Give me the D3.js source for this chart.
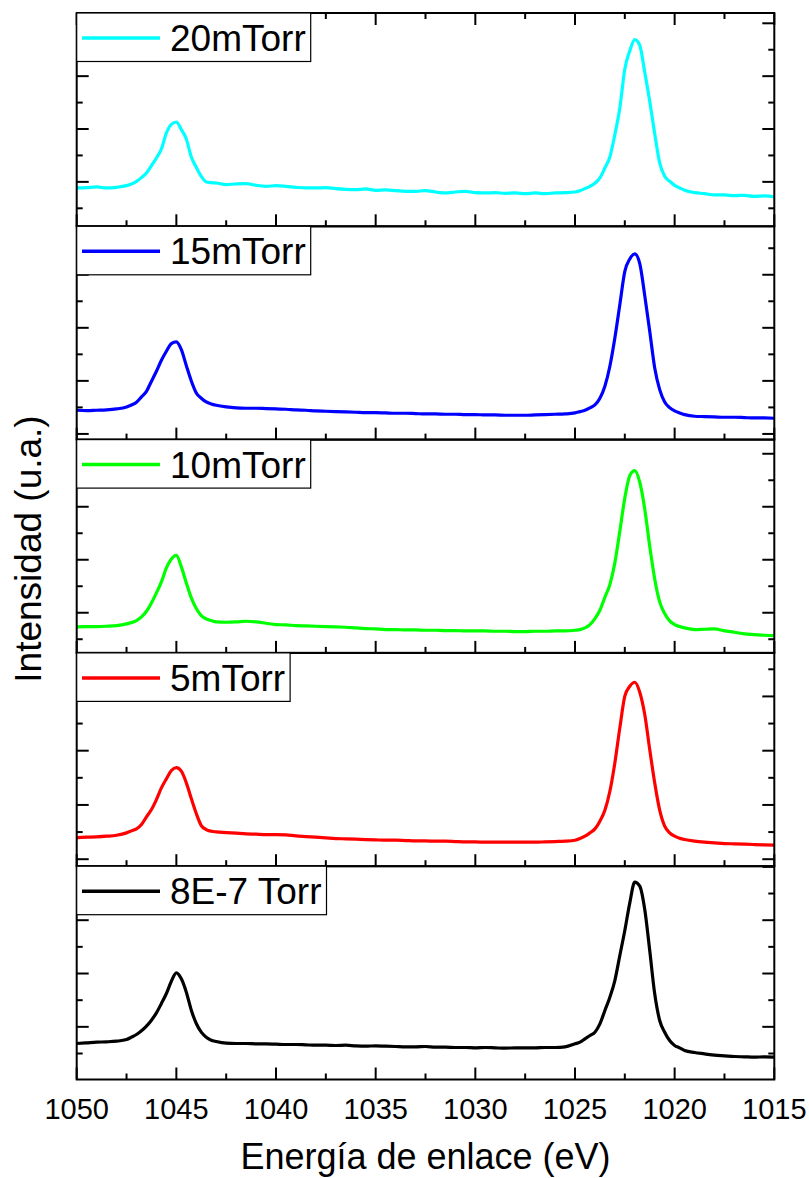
<!DOCTYPE html>
<html><head><meta charset="utf-8">
<script src="https://cdn.jsdelivr.net/npm/d3@7"></script>
<style>
body{margin:0;background:#fff}
svg{display:block}
text{font-family:"Liberation Sans",Arial,Helvetica,sans-serif;fill:#000}
</style>
</head><body>
<svg id="chart" width="809" height="1178"></svg>
<script>
// ---------------- DATA ----------------
const energy = [
  1050, 1049.5, 1049, 1048.5, 1048, 1047.5,
  1047.25, 1047, 1046.75, 1046.5, 1046.25, 1046, 1045.75, 1045.5, 1045.25, 1045, 1044.75, 1044.5, 1044.25, 1044, 1043.75, 1043.5, 1043.25, 1043,
  1042.5, 1042, 1041.5, 1041, 1040.5, 1040, 1039.5, 1039, 1038.5, 1038, 1037.5, 1037, 1036.5, 1036, 1035.5, 1035, 1034.5, 1034, 1033.5, 1033, 1032.5, 1032, 1031.5, 1031, 1030.5, 1030, 1029.5, 1029, 1028.5, 1028, 1027.5, 1027, 1026.5, 1026, 1025.5,
  1025, 1024.75, 1024.5, 1024.25, 1024, 1023.75, 1023.5, 1023.25, 1023, 1022.75, 1022.5, 1022.25, 1022, 1021.75, 1021.5, 1021.25, 1021, 1020.75, 1020.5, 1020.25, 1020, 1019.75, 1019.5,
  1019, 1018.5, 1018, 1017.5, 1017, 1016.5, 1016, 1015.5, 1015
];

const seriesNames = ["20mTorr", "15mTorr", "10mTorr", "5mTorr", "8E-7 Torr"];

const int20mTorr = [
  115, 116, 118, 115, 117, 122,
  127, 135, 146, 160, 182, 205, 232, 280, 306, 313, 290, 262, 208, 177, 150, 133, 131, 130,
  125, 127, 128, 123, 120, 122, 120, 117, 115, 115, 116, 113, 111, 110, 112, 108, 109, 107, 105, 105, 107, 103, 100, 103, 105, 101, 100, 101, 99, 100, 98, 100, 98, 100, 101,
  103, 107, 113, 120, 129, 145, 175, 208, 275, 355, 472, 527, 560, 543, 462, 375, 278, 190, 150, 135, 123, 115, 108,
  101, 98, 94, 94, 92, 93, 90, 91, 88
];
const int15mTorr = [
  88, 87, 88, 89, 92, 98,
  104, 112, 128, 145, 175, 205, 238, 265, 288, 293, 270, 222, 176, 140, 124, 113, 107, 103,
  98, 95, 94, 94, 93, 92, 91, 89, 88, 86, 85, 84, 83, 82, 81, 81, 80, 79, 79, 78, 77, 77, 76, 76, 75, 75, 74, 74, 73, 73, 73, 74, 75, 76, 77,
  80, 84, 88, 95, 104, 124, 160, 220, 305, 405, 505, 542, 557, 528, 432, 325, 215, 150, 113, 96, 86, 80, 75,
  70, 69, 68, 67, 67, 66, 65, 65, 64
];
const int10mTorr = [
  78, 79, 79, 80, 82, 87,
  91, 97, 108, 125, 150, 180, 213, 255, 282, 293, 258, 210, 165, 133, 112, 102, 97, 93,
  92, 93, 95, 93, 89, 85, 84, 82, 81, 80, 79, 78, 77, 75, 73, 72, 70, 70, 69, 69, 68, 68, 67, 67, 66, 66, 66, 65, 65, 64, 64, 65, 65, 66, 66,
  68, 70, 75, 85, 103, 128, 167, 205, 270, 365, 465, 532, 547, 512, 432, 320, 222, 153, 118, 96, 85, 79, 75,
  70, 71, 72, 66, 62, 57, 55, 53, 52
];
const int5mTorr = [
  86, 87, 88, 90, 93, 100,
  106, 112, 125, 148, 170, 200, 235, 262, 287, 296, 285, 250, 203, 158, 122, 110, 105, 103,
  101, 99, 97, 96, 95, 95, 94, 91, 89, 87, 85, 83, 82, 81, 80, 79, 78, 78, 77, 76, 76, 75, 75, 74, 73, 73, 72, 72, 72, 72, 72, 72, 73, 74, 75,
  78, 83, 90, 100, 112, 135, 168, 225, 310, 415, 510, 540, 552, 522, 455, 350, 250, 168, 120, 100, 90, 84, 80,
  75, 72, 70, 68, 67, 66, 65, 64, 63
];
const int8e7Torr = [
  108, 110, 112, 113, 115, 120,
  127, 135, 146, 160, 178, 200, 228, 258, 295, 320, 302, 262, 208, 168, 142, 127, 118, 114,
  109, 108, 108, 107, 107, 106, 105, 105, 104, 103, 103, 102, 103, 101, 100, 101, 100, 99, 98, 98, 99, 97, 97, 96, 96, 95, 96, 95, 94, 95, 95, 95, 96, 96, 98,
  107, 112, 122, 132, 142, 167, 207, 247, 297, 372, 447, 530, 592, 580, 510, 387, 257, 177, 142, 117, 102, 95, 87,
  81, 77, 73, 71, 69, 68, 67, 68, 67
];

const xMajorTicks = [1050, 1045, 1040, 1035, 1030, 1025, 1020, 1015];
const xTickLabels = ["1050", "1045", "1040", "1035", "1030", "1025", "1020", "1015"];
const xMinorTicks = [1047.5, 1042.5, 1037.5, 1032.5, 1027.5, 1022.5, 1017.5];

// intensity-axis tick positions (a.u.) of each panel: first tick, spacing, first tick is major?
const yTickStart = [54, 17, 41, 21, 78];
const yTickStep = [79.3, 79.6, 79.5, 81.4, 80];
const yTickFirstMajor = [false, true, false, true, false];
const yDomainMax = 640;

const xTitle = "Energía de enlace (eV)";
const yTitle = "Intensidad (u.a.)";

// ---------------- STYLE / LAYOUT ----------------
const colors = ["#00FFFF", "#0000FF", "#00FF00", "#FF0000", "#000000"];
const seriesValues = [int20mTorr, int15mTorr, int10mTorr, int5mTorr, int8e7Torr];

const L = 76.7, R = 774.3, T = 13, B = 1079.5;
const nP = 5, ph = (B - T) / nP;
const majorLen = 12, minorLen = 6;

const svg = d3.select("#chart");
const x = d3.scaleLinear().domain([1050, 1015]).range([L, R]);

const defs = svg.append("defs");

for (let i = 0; i < nP; i++) {
  const top = T + i * ph, bot = top + ph;
  const y = d3.scaleLinear().domain([0, yDomainMax]).range([bot, top]);
  const g = svg.append("g");

  defs.append("clipPath").attr("id", "clip" + i)
    .append("rect").attr("x", L).attr("y", top).attr("width", R - L).attr("height", ph);

  // data curve
  const pts = energy.map((e, k) => [e, seriesValues[i][k]]);
  g.append("path")
    .attr("clip-path", `url(#clip${i})`)
    .attr("d", d3.line().x(d => x(d[0])).y(d => y(d[1])).curve(d3.curveMonotoneX)(pts))
    .attr("fill", "none").attr("stroke", colors[i]).attr("stroke-width", 3.2)
    .attr("stroke-linejoin", "round");

  // y ticks (both sides, inward)
  const tg = g.append("g").attr("stroke", "#000").attr("stroke-width", 2);
  for (let k = 0; ; k++) {
    const v = yTickStart[i] + k * yTickStep[i];
    if (v >= yDomainMax) break;
    const major = (k % 2 === 0) === yTickFirstMajor[i];
    const len = major ? majorLen : minorLen;
    tg.append("line").attr("x1", L).attr("x2", L + len).attr("y1", y(v)).attr("y2", y(v));
    tg.append("line").attr("x1", R).attr("x2", R - len).attr("y1", y(v)).attr("y2", y(v));
  }
  // x ticks on bottom of each panel (inward)
  xMajorTicks.forEach(t => tg.append("line").attr("x1", x(t)).attr("x2", x(t)).attr("y1", bot).attr("y2", bot - majorLen));
  xMinorTicks.forEach(t => tg.append("line").attr("x1", x(t)).attr("x2", x(t)).attr("y1", bot).attr("y2", bot - minorLen));
  if (i === 0) {
    xMajorTicks.forEach(t => tg.append("line").attr("x1", x(t)).attr("x2", x(t)).attr("y1", top).attr("y2", top + majorLen));
    xMinorTicks.forEach(t => tg.append("line").attr("x1", x(t)).attr("x2", x(t)).attr("y1", top).attr("y2", top + minorLen));
  }

  // frame
  g.append("rect").attr("x", L).attr("y", top).attr("width", R - L).attr("height", ph)
    .attr("fill", "none").attr("stroke", "#000").attr("stroke-width", 2);

  // legend
  const lg = g.append("g");
  const box = lg.append("rect").attr("x", L).attr("y", top).attr("height", 48.5)
    .attr("fill", "#fff").attr("stroke", "#000").attr("stroke-width", 1.2);
  lg.append("line").attr("x1", 82).attr("x2", 160).attr("y1", top + 25).attr("y2", top + 25)
    .attr("stroke", colors[i]).attr("stroke-width", 3.5);
  const txt = lg.append("text").attr("x", 170).attr("y", top + 38)
    .attr("font-size", 37).text(seriesNames[i]);
  const tw = txt.node().getComputedTextLength();
  box.attr("width", 170 + tw + 5 - L);
}

// x tick labels
svg.append("g").selectAll("text").data(xMajorTicks).join("text")
  .attr("x", d => x(d)).attr("y", B + 39)
  .attr("text-anchor", "middle").attr("font-size", 29)
  .text((d, k) => xTickLabels[k]);

// axis titles
svg.append("text").attr("x", (L + R) / 2).attr("y", 1169)
  .attr("text-anchor", "middle").attr("font-size", 36).text(xTitle);
svg.append("text").attr("transform", `translate(41,549) rotate(-90)`)
  .attr("text-anchor", "middle").attr("font-size", 37).text(yTitle);
</script>
</body></html>
